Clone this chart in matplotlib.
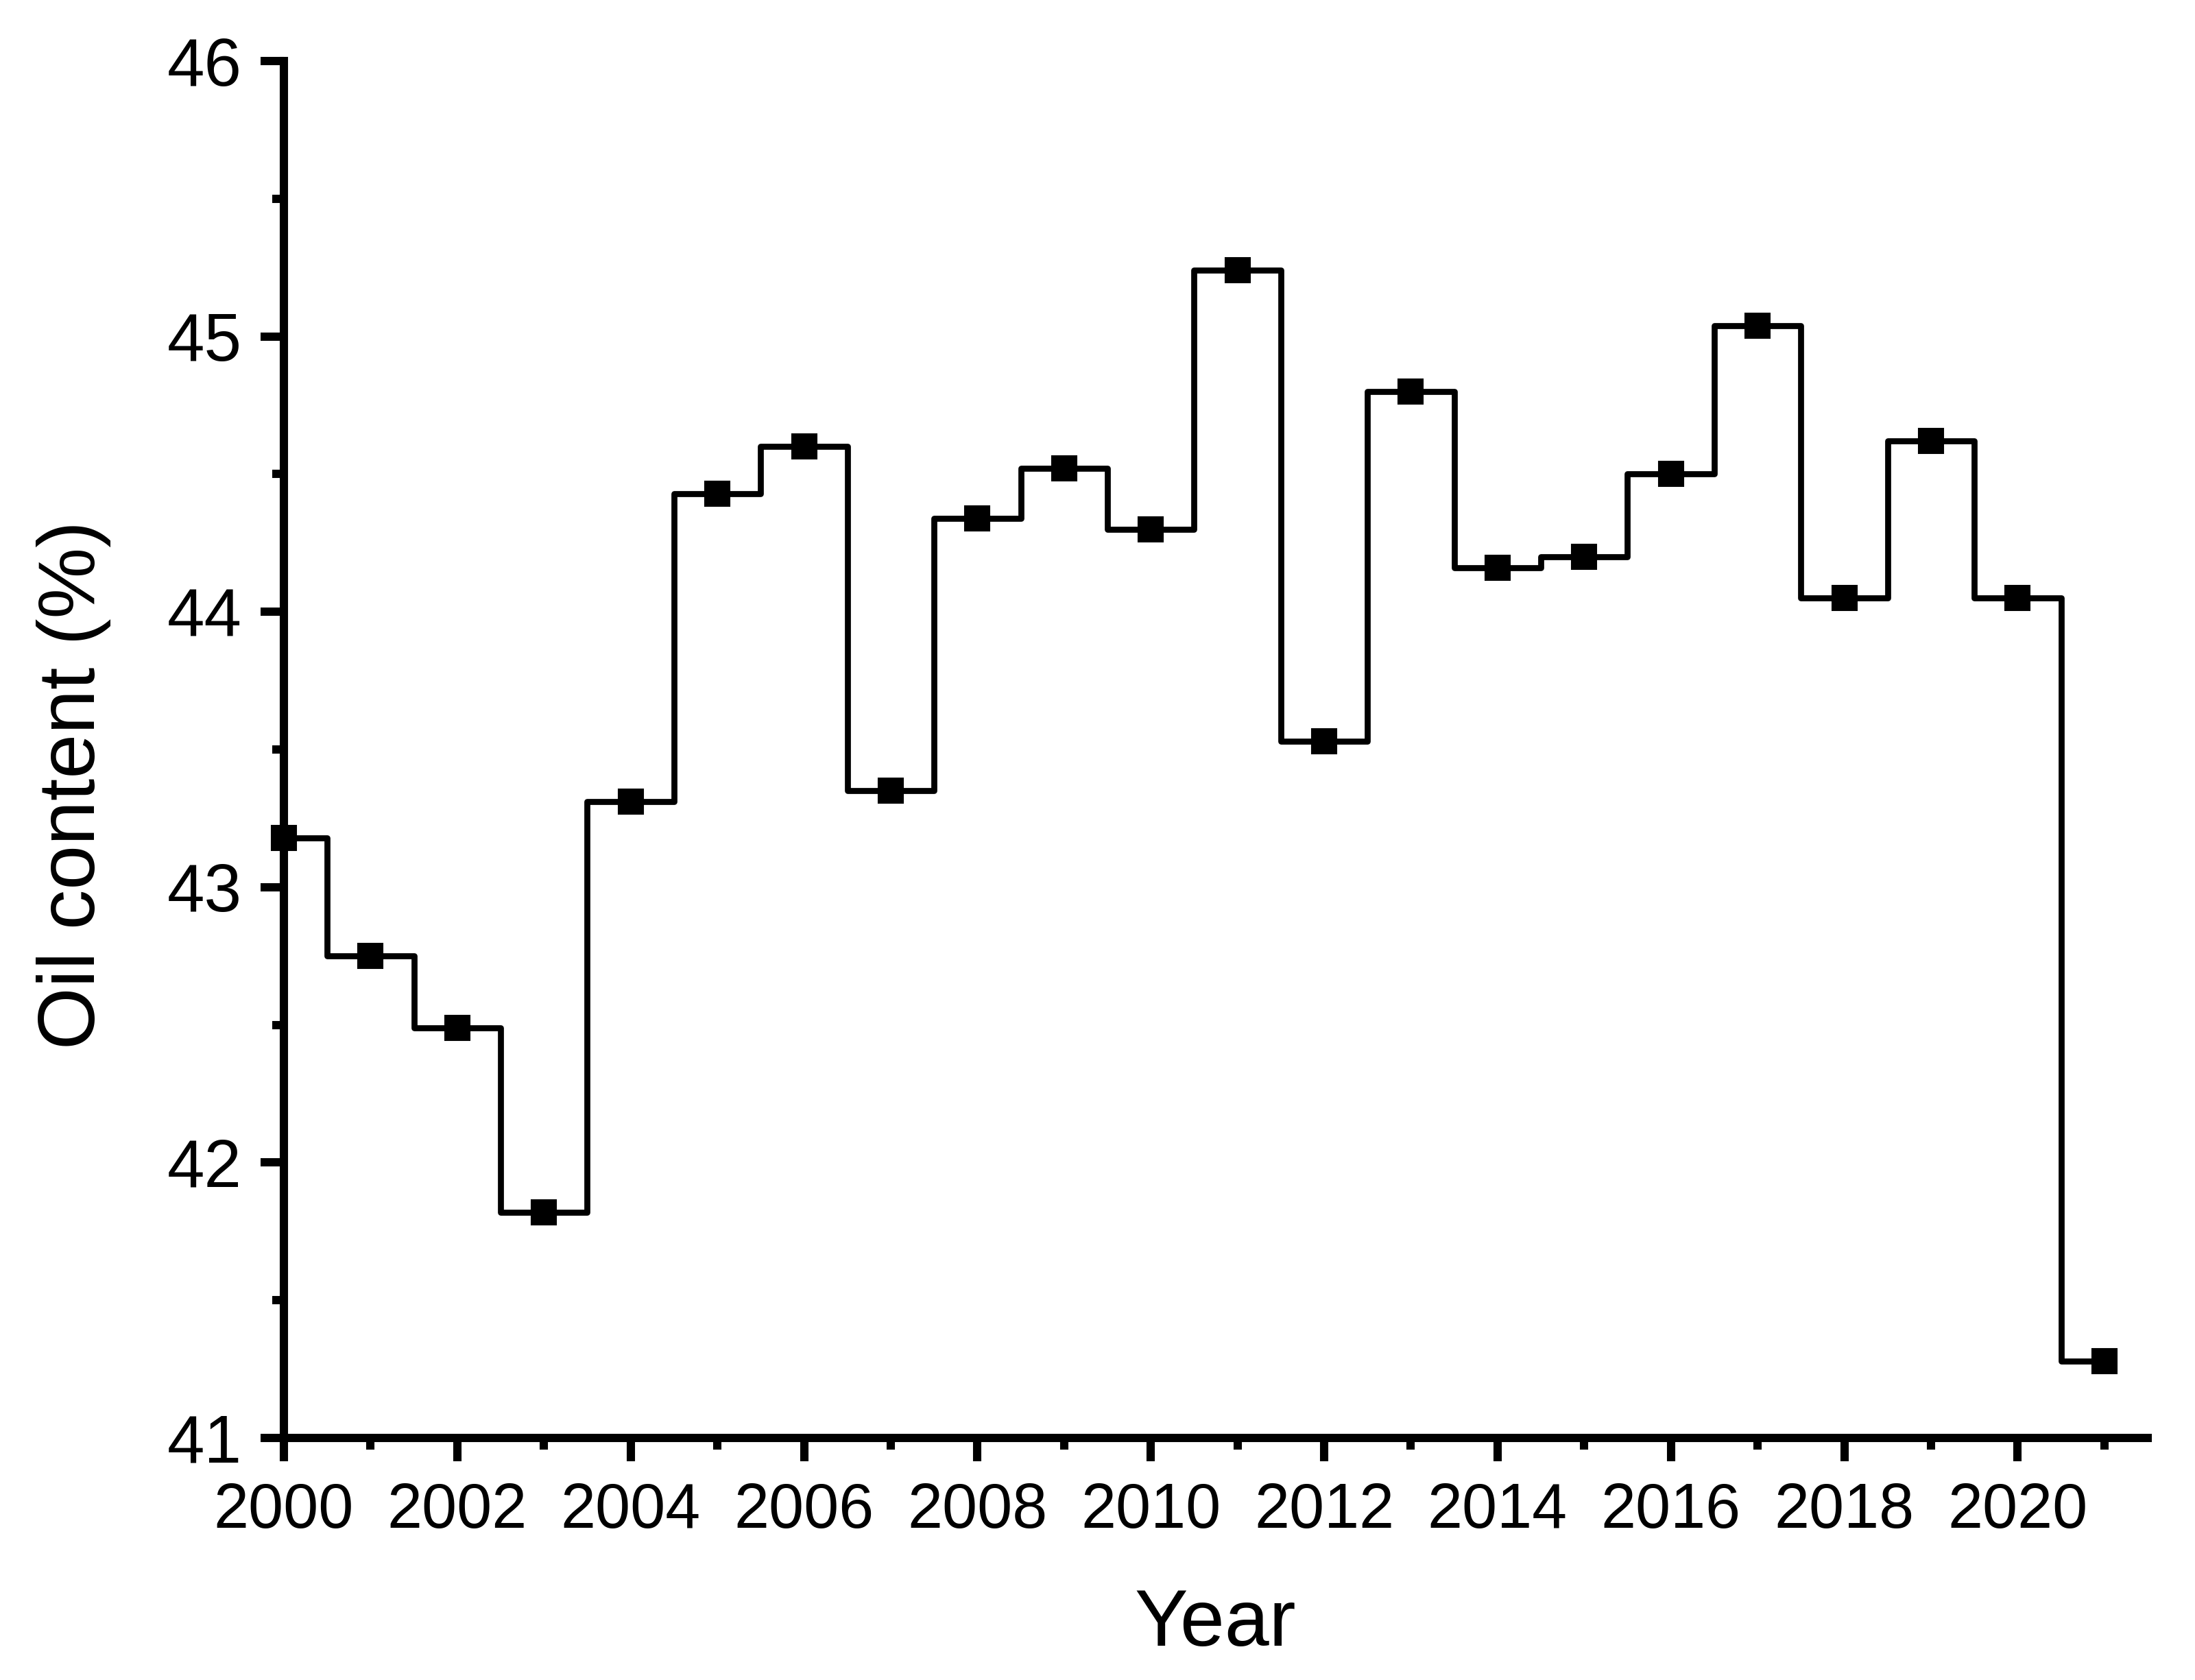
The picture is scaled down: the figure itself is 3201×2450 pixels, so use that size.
import matplotlib
matplotlib.use("Agg")
import matplotlib.pyplot as plt
from matplotlib.ticker import MultipleLocator

years = [2000, 2001, 2002, 2003, 2004, 2005, 2006, 2007, 2008, 2009, 2010,
         2011, 2012, 2013, 2014, 2015, 2016, 2017, 2018, 2019, 2020, 2021]
oil_content = [43.18, 42.75, 42.49, 41.82, 43.31, 44.43, 44.60, 43.35, 44.34, 44.52, 44.30,
               45.24, 43.53, 44.80, 44.16, 44.20, 44.50, 45.04, 44.05, 44.62, 44.05, 41.28]
x_ticks = [2000, 2002, 2004, 2006, 2008, 2010, 2012, 2014, 2016, 2018, 2020]
y_ticks = [41, 42, 43, 44, 45, 46]

plt.rcParams['font.family'] = ['Liberation Sans', 'DejaVu Sans']

fig = plt.figure(figsize=(3201 / 300, 2450 / 300), dpi=300)
ax = fig.add_axes([414 / 3201, 1 - 2097 / 2450, (3132 - 414) / 3201, (2097 - 89) / 2450])

ax.plot(years, oil_content, drawstyle='steps-mid', color='black', lw=2.1,
        marker='s', ms=8.8, mew=0.5, mfc='black', mec='black',
        solid_joinstyle='round', clip_on=False, zorder=3)

ax.set_xlim(2000, 2021.5)
ax.set_ylim(41, 46)
ax.set_xticks(x_ticks)
ax.set_yticks(y_ticks)
ax.xaxis.set_minor_locator(MultipleLocator(1))
ax.yaxis.set_minor_locator(MultipleLocator(0.5))

for side in ['top', 'right']:
    ax.spines[side].set_visible(False)
for side in ['left', 'bottom']:
    ax.spines[side].set_linewidth(2.9)
    ax.spines[side].set_capstyle('projecting')

ax.tick_params(which='major', direction='out', length=8.2, width=2.9, color='black')
ax.tick_params(which='minor', direction='out', length=4.0, width=2.9, color='black')
ax.tick_params(axis='x', which='major', labelsize=22, pad=7.2)
ax.tick_params(axis='y', which='major', labelsize=23.5, pad=6.6)

ax.set_xlabel('Year', fontsize=28)
ax.xaxis.set_label_coords(0.4997, (2097 - 2400) / 2008)
ax.xaxis.label.set_va('baseline')

ax.set_ylabel('Oil content (%)', fontsize=28)
ax.yaxis.set_label_coords((138 - 414) / 2718, (2097 - 1145) / 2008)
ax.yaxis.label.set_va('baseline')

fig.savefig('out.png', dpi=300, facecolor='white')
